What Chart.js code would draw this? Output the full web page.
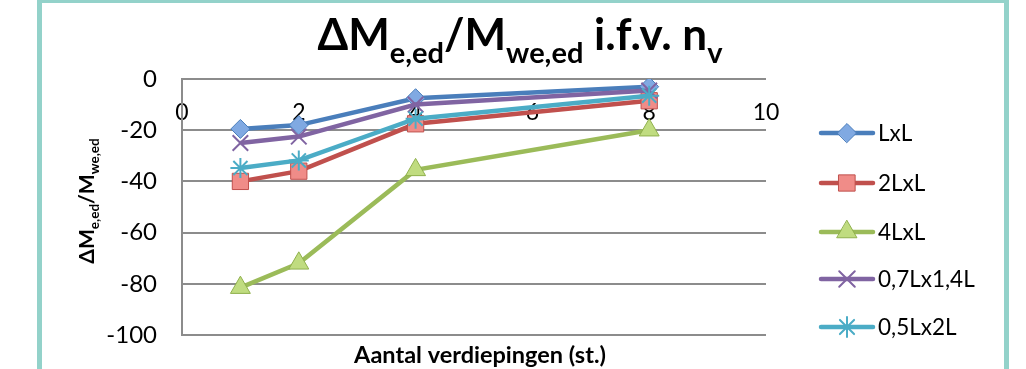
<!DOCTYPE html>
<html>
<head>
<meta charset="utf-8">
<script src="https://cdn.jsdelivr.net/npm/chart.js@4/dist/chart.umd.min.js"></script>
<style>
  html, body { margin: 0; padding: 0; background: #fff; overflow: hidden; }
  #wrap { position: relative; width: 1026px; height: 369px; }
  #frame {
    position: absolute; left: 37px; top: -2px; width: 972px; height: 420px;
    box-sizing: border-box; border: 5px solid #93d2ca; pointer-events: none;
  }
  canvas { position: absolute; left: 0; top: 0; }
</style>
</head>
<body>
<div id="wrap">
  <canvas id="c" width="1026" height="369"></canvas>
  <div id="frame"></div>
</div>
<script>
// Number of storeys (x) and the moment ratio per floor-plan shape (y, %)
const floors = [1, 2, 4, 8];
const seriesNames = ['LxL', '2LxL', '4LxL', '0,7Lx1,4L', '0,5Lx2L'];
const valsLxL = [-19.5, -18, -7.5, -3];
const vals2LxL = [-40, -36, -17.5, -8.5];
const vals4LxL = [-81.5, -72, -35.5, -20];
const vals07Lx14L = [-25, -22.5, -10, -4.5];
const vals05Lx2L = [-34.8, -31.8, -15.5, -6.5];
const xTicks = [0, 2, 4, 6, 8, 10];
const yTicks = [-100, -80, -60, -40, -20, 0];

const seriesValues = [valsLxL, vals2LxL, vals4LxL, vals07Lx14L, vals05Lx2L];

const styles = [
  { line: '#4a7ebb', fill: '#80a9e2', edge: '#4a7ebb', point: 'rectRot', r: 9.5, bw: 1 },
  { line: '#c0504d', fill: '#f08c88', edge: '#c0504d', point: 'rect', r: 11.5, bw: 1 },
  { line: '#9bbb59', fill: '#c0dc80', edge: '#8fb04c', point: 'triangle', r: 11.5, bw: 1 },
  { line: '#8064a2', fill: '#8064a2', edge: '#8064a2', point: 'crossRot', r: 11, bw: 2 },
  { line: '#4bacc6', fill: '#4bacc6', edge: '#4bacc6', point: 'star', r: 10, bw: 2 }
];

const datasets = seriesNames.map((name, i) => ({
  label: name,
  data: floors.map((f, k) => ({ x: f, y: seriesValues[i][k] })),
  borderColor: styles[i].line,
  borderWidth: 4.5,
  backgroundColor: styles[i].fill,
  pointStyle: styles[i].point,
  pointRadius: styles[i].r,
  pointHoverRadius: styles[i].r,
  pointBackgroundColor: styles[i].fill,
  pointBorderColor: styles[i].edge,
  pointBorderWidth: styles[i].bw,
  tension: 0,
  fill: false,
  order: -i
}));

// Draws a run of text pieces, some of them lowered and smaller (subscripts)
function drawRich(ctx, pieces, x, y, bigFont, subFont, subDrop, align) {
  let total = 0;
  pieces.forEach(p => { ctx.font = p.sub ? subFont : bigFont; total += ctx.measureText(p.t).width; });
  let cx = align === 'center' ? x - total / 2 : x;
  ctx.textAlign = 'left';
  ctx.textBaseline = 'alphabetic';
  pieces.forEach(p => {
    ctx.font = p.sub ? subFont : bigFont;
    ctx.fillText(p.t, cx, p.sub ? y + subDrop : y);
    cx += ctx.measureText(p.t).width;
  });
}

const decorations = {
  id: 'decorations',
  afterDraw(chart) {
    const ctx = chart.ctx;
    ctx.save();
    ctx.fillStyle = '#000';

    // chart title
    drawRich(ctx, [
      { t: 'ΔM' }, { t: 'e,ed', sub: true }, { t: '/M' }, { t: 'we,ed', sub: true },
      { t: ' i.f.v. n' }, { t: 'v', sub: true }
    ], 520, 50, 'bold 44px Lato', 'bold 29px Lato', 13, 'center');

    // y-axis title, rotated
    ctx.save();
    ctx.translate(94, 201);
    ctx.rotate(-Math.PI / 2);
    drawRich(ctx, [
      { t: 'ΔM' }, { t: 'e,ed', sub: true }, { t: '/M' }, { t: 'we,ed', sub: true }
    ], 0, 0, 'bold 21px Lato', 'bold 13.5px Lato', 5, 'center');
    ctx.restore();

    // x-axis title
    ctx.font = 'bold 23.5px Lato';
    ctx.textAlign = 'center';
    ctx.textBaseline = 'middle';
    ctx.fillText('Aantal verdiepingen (st.)', 480, 355);

    // legend: line + marker + name
    const ly = [133, 183, 232, 279, 327];
    seriesNames.forEach((name, i) => {
      const s = styles[i];
      const y = ly[i];
      ctx.strokeStyle = s.line;
      ctx.lineWidth = 4.5;
      ctx.lineCap = 'round';
      ctx.beginPath();
      ctx.moveTo(821, y);
      ctx.lineTo(873, y);
      ctx.stroke();
      ctx.fillStyle = s.fill;
      ctx.strokeStyle = s.edge;
      ctx.lineWidth = s.bw;
      Chart.helpers.drawPoint(ctx, { pointStyle: s.point, radius: s.r, rotation: 0, borderWidth: s.bw }, 847, y);
      ctx.fillStyle = '#000';
      ctx.font = '22.5px Lato';
      ctx.textAlign = 'left';
      ctx.textBaseline = 'middle';
      ctx.fillText(name, 878, y + 1);
    });
    ctx.restore();
  }
};

new Chart(document.getElementById('c'), {
  type: 'line',
  data: { datasets },
  options: {
    responsive: false,
    animation: false,
    events: [],
    layout: { padding: { left: 0, right: 260, top: 79, bottom: 34 } },
    plugins: {
      legend: { display: false },
      title: { display: false },
      tooltip: { enabled: false }
    },
    scales: {
      x: {
        type: 'linear',
        position: { y: 0 },
        min: 0,
        max: 10,
        afterBuildTicks: (scale) => { scale.ticks = xTicks.map(v => ({ value: v })); },
        afterFit: (scale) => { scale.height = 0; },
        grid: { display: false, drawTicks: false },
        border: { display: false },
        ticks: { color: '#000', font: { family: 'Lato', size: 23 }, padding: 20, maxRotation: 0 }
      },
      y: {
        type: 'linear',
        min: -100,
        max: 0,
        afterBuildTicks: (scale) => { scale.ticks = yTicks.map(v => ({ value: v })); },
        afterFit: (scale) => { scale.width = 182; },
        grid: { color: '#8c8c8c', lineWidth: 2, drawTicks: true, tickLength: 25, tickColor: 'rgba(0,0,0,0)' },
        border: { display: true, color: '#8c8c8c', width: 2 },
        ticks: { color: '#000', font: { family: 'Lato', size: 24 }, padding: 0 }
      }
    }
  },
  plugins: [decorations]
});
</script>
</body>
</html>
